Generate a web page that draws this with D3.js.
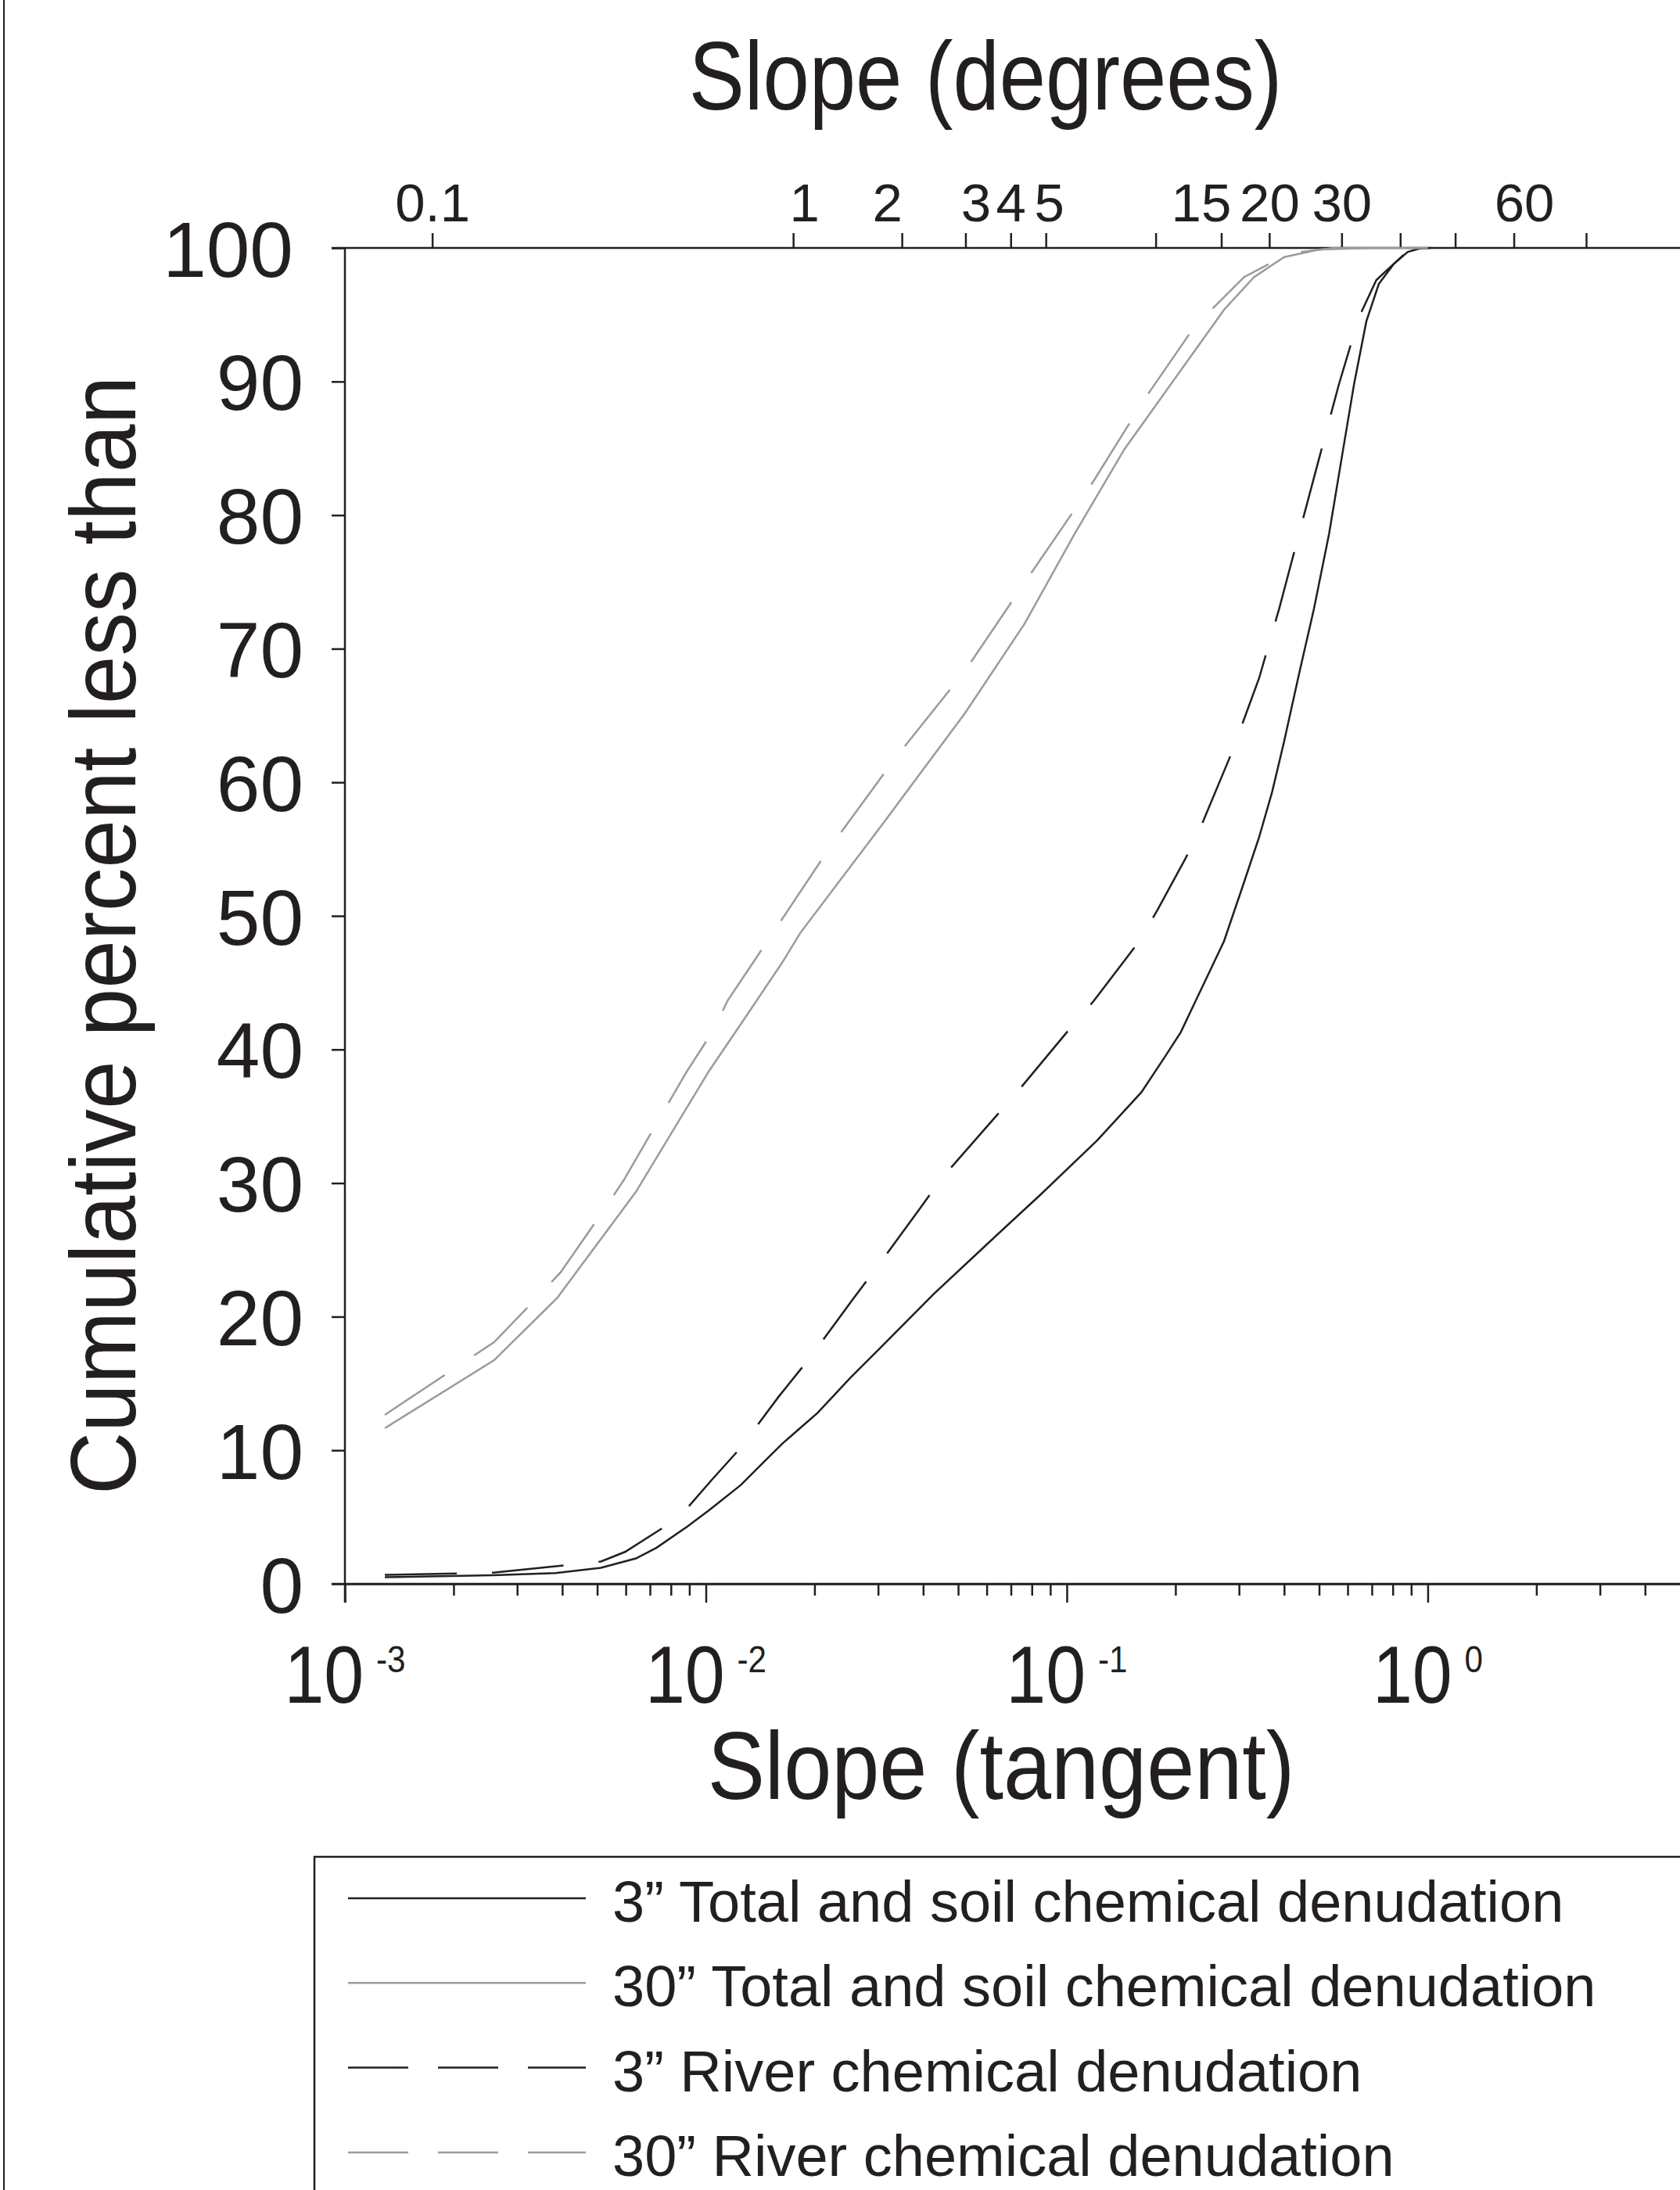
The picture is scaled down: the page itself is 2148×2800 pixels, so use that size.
<!DOCTYPE html>
<html>
<head>
<meta charset="utf-8">
<script src="https://cdn.jsdelivr.net/npm/d3@7"></script>
<style>
    body { margin: 0; background: #fff; }
    text { font-family: "Liberation Sans", Arial, sans-serif; fill: #231f20; }
    .axis path, .axis line { stroke: #231f20; stroke-width: 2.5; }
    .curve { fill: none; stroke-width: 2.5; }
</style>
</head>
<body>
<div id="chart"></div>
<script>
// [tangent, cumulative percent]
let total3 = [[0.00129, 0.5], [0.00257, 0.65], [0.00383, 0.8], [0.00512, 1.2], [0.0064, 1.9], [0.0073, 2.7],
    [0.0089, 4.3], [0.0102, 5.5], [0.0125, 7.4], [0.0147, 9.3], [0.0163, 10.5], [0.0204, 12.8], [0.0251, 15.4],
    [0.0308, 17.8], [0.0428, 21.7], [0.0611, 25.6], [0.0851, 29.2], [0.1215, 33.2], [0.161, 36.8], [0.1875, 39.5],
    [0.207, 41.3], [0.2328, 44.2], [0.2726, 48.1], [0.3088, 52.4], [0.3412, 55.9], [0.3708, 59.3], [0.3996, 63.0],
    [0.44, 68.1], [0.484, 73.0], [0.533, 78.6], [0.577, 84.2], [0.625, 89.8], [0.676, 94.5], [0.732, 97.3],
    [0.805, 98.8], [0.88, 99.7], [0.95, 99.95], [1.02, 100]]
let total30 = [[0.00129, 11.65], [0.00259, 16.74], [0.00387, 21.39], [0.0064, 29.34], [0.0102, 38.38],
    [0.0129, 42.45], [0.01627, 46.5], [0.01826, 48.72], [0.03136, 57.12], [0.0522, 65.16], [0.0764, 71.87],
    [0.1051, 78.59], [0.1445, 84.94], [0.1986, 90.16], [0.273, 95.39], [0.3304, 97.82], [0.4, 99.31],
    [0.5, 99.88], [0.7, 100], [1.0, 100]]
let river3 = [[0.00129, 0.67], [0.00257, 0.83], [0.00512, 1.67], [0.00598, 2.4], [0.00755, 4.14], [0.0089, 5.7],
    [0.0104, 7.8], [0.0125, 10.2], [0.0159, 14.0], [0.0194, 16.9], [0.0257, 21.4], [0.0296, 23.6], [0.0392, 28.1],
    [0.045, 30.35], [0.0627, 34.8], [0.0749, 37.2], [0.103, 41.7], [0.1185, 43.6], [0.1588, 48.1], [0.178, 50.4],
    [0.2128, 54.25], [0.2329, 56.4], [0.2863, 62.2], [0.3411, 67.8], [0.3877, 73.0], [0.44, 78.6], [0.4996, 84.2],
    [0.5676, 89.8], [0.6447, 94.8], [0.7206, 97.6], [0.8584, 99.5], [1.0, 100]]
let river30 = [[0.00129, 12.65], [0.00259, 18.09], [0.00335, 21.22], [0.00396, 23.32], [0.00517, 27.83],
    [0.00592, 30.21], [0.00739, 34.69], [0.00883, 38.3], [0.01043, 41.33], [0.01151, 43.69], [0.01485, 48.16],
    [0.02176, 54.88], [0.03343, 61.79], [0.0522, 68.33], [0.0777, 75.23], [0.1138, 81.77], [0.1641, 88.67],
    [0.2256, 94.09], [0.31, 97.82], [0.4128, 99.58], [0.55, 100], [1.0, 100]]

let seriesNames = ["3\u201D Total and soil chemical denudation", "30\u201D Total and soil chemical denudation",
    "3\u201D River chemical denudation", "30\u201D River chemical denudation"]
let yTicks = [0, 10, 20, 30, 40, 50, 60, 70, 80, 90, 100]
let degTicks = [0.1, 1, 2, 3, 4, 5, 10, 15, 20, 30, 40, 50, 60, 70]
let degLabels = [0.1, 1, 2, 3, 4, 5, 15, 20, 30, 60]
let majorTicks = [0.001, 0.01, 0.1, 1]
let exponents = ["-3", "-2", "-1", "0"]

let w = 2148, h = 2800
let mLeft = 441, mRight = 2148, mTop = 317, mBottom = 2025
let black = "#231f20", gray = "#9b9b9b"

let svg = d3.select("#chart").append("svg")
    .attr("width", w)
    .attr("height", h)

let x = d3.scaleLog().domain([0.001, 5]).range([mLeft, mRight])
let y = d3.scaleLinear().domain([0, 100]).range([mBottom, mTop])

// frame line on the left
svg.append("line")
    .attr("x1", 5).attr("x2", 5).attr("y1", 0).attr("y2", h)
    .attr("stroke", black).attr("stroke-width", 2)

// helper for the narrow looking text
let narrow = (px, py, str, size, sx, rot) => svg.append("text")
    .attr("transform", "translate(" + px + "," + py + ")" + (rot ? " rotate(" + rot + ")" : "") + " scale(" + sx + ",1)")
    .attr("text-anchor", "middle")
    .style("font-size", size + "px")
    .text(str)

// minor ticks on bottom axis
let minor = []
for (let e = -3; e <= 0; e++)
    for (let m = 2; m <= 9; m++) {
        let v = m * Math.pow(10, e)
        if (v < 5) minor.push(v)
    }

svg.append("g")
    .attr("class", "axis")
    .attr("transform", "translate(0," + mBottom + ")")
    .call(d3.axisBottom(x).tickValues(minor).tickSize(15).tickSizeOuter(0).tickFormat(""))

let xMajor = svg.append("g")
    .attr("class", "axis")
    .attr("transform", "translate(0," + mBottom + ")")
    .call(d3.axisBottom(x).tickValues(majorTicks).tickSize(24).tickSizeOuter(0).tickFormat(""))
xMajor.select(".domain").remove()

// labels 10^n
majorTicks.forEach((v, i) => {
    let t = svg.append("text")
        .attr("transform", "translate(" + x(v) + ",2177) scale(0.88,1)")
        .attr("text-anchor", "middle")
        .style("font-size", "104px")
    t.append("tspan").text("10")
    t.append("tspan").attr("dx", 18).attr("dy", -39).style("font-size", "48px").text(exponents[i])
})

// top axis in degrees
let rad = d => Math.tan(d * Math.PI / 180)
let nudge = { 1: 14, 2: -19, 3: 13, 5: 4, 15: -26, 60: 13 }
let xTop = svg.append("g")
    .attr("class", "axis")
    .attr("transform", "translate(0," + mTop + ")")
    .call(d3.axisTop(x).tickValues(degTicks.map(rad)).tickSize(19).tickSizeOuter(0).tickPadding(15)
        .tickFormat((d, i) => degLabels.indexOf(degTicks[i]) >= 0 ? String(degTicks[i]) : ""))
xTop.selectAll("text")
    .style("font-size", "69px")
    .style("font-family", "'Liberation Sans', Arial, sans-serif")
    .attr("fill", black)
    .attr("dx", (d, i) => nudge[degTicks[i]] || 0)
xTop.select(".domain").attr("d", "M" + (mLeft - 17) + ",0H" + mRight)

// y axis
let yAxis = svg.append("g")
    .attr("class", "axis")
    .attr("transform", "translate(" + mLeft + ",0)")
    .call(d3.axisLeft(y).tickValues(yTicks).tickSize(17).tickSizeOuter(0).tickPadding(36))
yAxis.selectAll("text")
    .style("font-size", "100px")
    .style("font-family", "'Liberation Sans', Arial, sans-serif")
    .attr("fill", black)
    .attr("dy", "0.36em")
    .attr("dx", d => d === 100 ? -13 : 0)
yAxis.select(".domain").attr("d", "M0," + (mBottom + 24) + "V" + mTop)

// bottom axis line extends left like the top one
svg.append("line")
    .attr("x1", mLeft - 17).attr("x2", mRight)
    .attr("y1", mBottom).attr("y2", mBottom)
    .attr("stroke", black).attr("stroke-width", 2.5)

// curves
let line = d3.line()
    .x(d => x(d[0]))
    .y(d => y(d[1]))

let series = [
    { data: total3, color: black, dash: null },
    { data: total30, color: gray, dash: null },
    { data: river3, color: black, dash: "92,45" },
    { data: river30, color: gray, dash: "92,45" }
]

series.forEach(s => {
    svg.append("path")
        .datum(s.data)
        .attr("class", "curve")
        .attr("stroke", s.color)
        .attr("stroke-dasharray", s.dash)
        .attr("d", line)
})

// axis titles
narrow(1260, 140, "Slope (degrees)", 125, 0.853)
narrow(1280, 2300, "Slope (tangent)", 122, 0.9)
narrow(173, 1196, "Cumulative percent less than", 118, 0.94, -90)

// legend
svg.append("rect")
    .attr("x", 402).attr("y", 2374)
    .attr("width", w - 402 + 20).attr("height", 500)
    .attr("fill", "none").attr("stroke", black).attr("stroke-width", 2.5)

let legend = svg.append("g")
seriesNames.forEach((name, i) => {
    let ly = 2427 + i * 108.3
    legend.append("line")
        .attr("x1", 445).attr("x2", 749)
        .attr("y1", ly).attr("y2", ly)
        .attr("stroke", series[i].color)
        .attr("stroke-width", 2.5)
        .attr("stroke-dasharray", series[i].dash ? "77,38" : null)
    legend.append("text")
        .attr("x", 783)
        .attr("y", ly + 30)
        .style("font-size", "74px")
        .text(name)
})
</script>
</body>
</html>
